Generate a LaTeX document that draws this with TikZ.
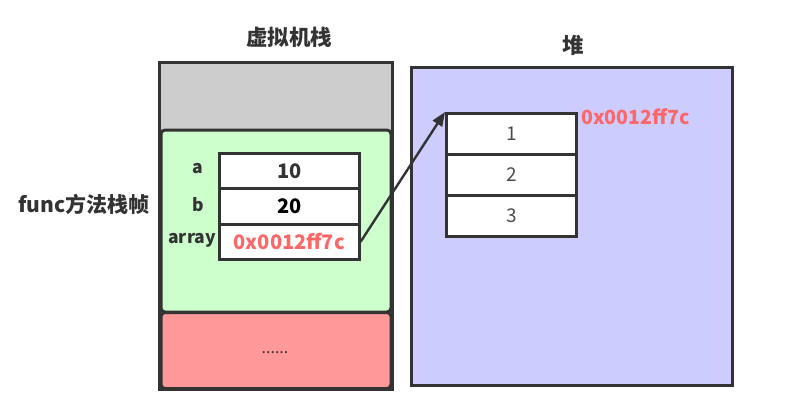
\documentclass[tikz,border=0pt]{standalone}
\usepackage{fontspec}
\setmainfont{Noto Sans CJK SC}
\usetikzlibrary{arrows.meta}
\definecolor{bd}{HTML}{333333}
\definecolor{stackgray}{HTML}{CCCCCC}
\definecolor{framegreen}{HTML}{CCFFCC}
\definecolor{framered}{HTML}{FF9999}
\definecolor{heapblue}{HTML}{CCCCFF}
\definecolor{addrred}{HTML}{FF6666}
\definecolor{txt}{HTML}{333333}
\begin{document}
\begin{tikzpicture}[x=1pt,y=-1pt,
  outer/.style={draw=bd, line width=3pt, anchor=north west, inner sep=0pt},
  frame/.style={draw=bd, line width=3pt, rounded corners=4pt, anchor=north west, inner sep=0pt},
  cell/.style={draw=bd, line width=2.6pt, fill=white, anchor=north west, inner sep=0pt, minimum width=140pt, minimum height=35pt, font=\fontsize{20}{22}\selectfont\bfseries, text=txt},
  hcell/.style={draw=bd, line width=2.6pt, fill=white, anchor=north west, inner sep=0pt, minimum width=130pt, minimum height=41pt, font=\fontsize{19}{21}\selectfont, text=black!70},
  lbl/.style={font=\fontsize{20}{22}\selectfont\bfseries, text=txt, inner sep=0pt},
  varlbl/.style={font=\fontsize{17.5}{20}\selectfont\bfseries, text=txt, inner sep=0pt},
  title/.style={font=\fontsize{21.5}{24}\selectfont\bfseries, text=txt, inner sep=0pt}
]
\useasboundingbox (0,0) rectangle (798,405);

% virtual machine stack
\node[title] (ttl1) at (289,37) {虚拟机栈};
\node[outer, fill=stackgray, minimum width=233pt, minimum height=327pt] (stack) at (158,61) {};
\node[frame, fill=framegreen, minimum width=230pt, minimum height=182pt] (green) at (159.5,128.5) {};
\node[frame, fill=framered, minimum width=230pt, minimum height=76pt] (red) at (159.5,311) {};
\node[lbl, font=\fontsize{16}{18}\selectfont] (dots) at (275,353) {......};

\node[cell] (ca) at (218,152) {10};
\node[cell, text=black] (cb) at (218,187.5) {20};
\node[cell, text=addrred] (cc) at (218,223) {0x0012ff7c};

\node[varlbl] (la) at (198,169) {a};
\node[varlbl] (lb) at (198,205) {b};
\node[varlbl, anchor=east] (lc) at (216,240) {array};

\node[lbl, font=\fontsize{21}{24}\selectfont\bfseries, anchor=west] (func) at (18,204) {func方法栈帧};

% heap
\node[title] (ttl2) at (573,45) {堆};
\node[outer, fill=heapblue, minimum width=321pt, minimum height=318pt] (heap) at (410,66) {};
\node[hcell] (h1) at (445,112) {1};
\node[hcell] (h2) at (445,153) {2};
\node[hcell] (h3) at (445,194) {3};
\node[lbl, font=\fontsize{19.5}{22}\selectfont\bfseries, text=addrred, anchor=west] (addr) at (581,117) {0x0012ff7c};

\draw[bd, line width=2.4pt, -{Triangle[length=14pt,width=11pt]}] (cc.east) -- (h1.north west);
\end{tikzpicture}
\end{document}
